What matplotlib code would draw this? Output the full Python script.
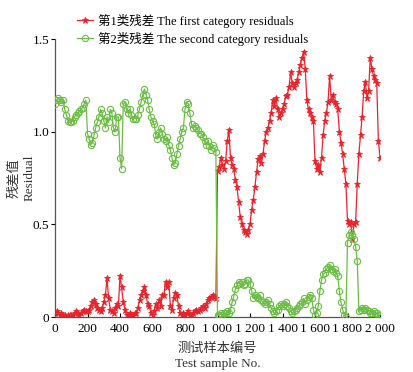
import numpy as np
import matplotlib.pyplot as plt

plt.rcParams['font.family'] = ['Liberation Serif', 'Noto Sans CJK SC', 'DejaVu Sans']

# sample number (every 10th test sample)
samples = np.arange(0, 2001, 10)

# residual of category 1 (red)
resid_1 = [
    0.02, 0.03, 0.02, 0.01, 0.02, 0.01, 0.01, 0.00, 0.01, 0.01,
    0.01, 0.01, 0.02, 0.03, 0.02, 0.01, 0.02, 0.03, 0.04, 0.03,
    0.03, 0.04, 0.06, 0.08, 0.09, 0.07, 0.05, 0.04, 0.03, 0.05,
    0.08, 0.12, 0.21, 0.10, 0.04, 0.03, 0.02, 0.05, 0.07, 0.06,
    0.22, 0.16, 0.08, 0.04, 0.01, 0.01, 0.02, 0.01, 0.01, 0.02,
    0.02, 0.05, 0.09, 0.12, 0.14, 0.16, 0.12, 0.07, 0.06, 0.02,
    0.01, 0.03, 0.07, 0.05, 0.09, 0.06, 0.12, 0.12, 0.19, 0.16,
    0.19, 0.06, 0.04, 0.10, 0.13, 0.12, 0.06, 0.02, 0.01, 0.02,
    0.01, 0.02, 0.03, 0.01, 0.01, 0.02, 0.03, 0.04, 0.03, 0.04,
    0.05, 0.06, 0.05, 0.07, 0.09, 0.10, 0.11, 0.12, 0.11, 0.10,
    0.79, 0.81, 0.86, 0.82, 0.80, 0.84, 0.95, 1.01, 0.86, 0.82,
    0.80, 0.74, 0.70, 0.62, 0.54, 0.50, 0.47, 0.46, 0.45, 0.47,
    0.50, 0.58, 0.63, 0.70, 0.78, 0.85, 0.87, 0.83, 0.88, 0.95,
    1.00, 1.02, 1.06, 1.10, 1.17, 1.14, 1.18, 1.12, 1.08, 1.10,
    1.12, 1.15, 1.19, 1.20, 1.24, 1.32, 1.26, 1.24, 1.26, 1.28,
    1.32, 1.36, 1.40, 1.43, 1.34, 1.17, 1.12, 1.10, 1.08, 1.06,
    0.84, 0.80, 0.82, 0.78, 0.86, 0.98, 1.06, 1.10, 1.16, 1.30,
    1.17, 1.20, 1.16, 1.15, 1.12, 1.00, 0.94, 0.88, 0.80, 0.72,
    0.52, 0.50, 0.51, 0.42, 0.50, 0.51, 0.72, 0.88, 0.98, 1.08,
    1.22, 1.27, 1.18, 1.22, 1.40, 1.34, 1.30, 1.28, 1.26, 0.95,
    0.86,
]

# residual of category 2 (green)
resid_2 = [
    1.15, 1.17, 1.18, 1.17, 1.16, 1.17, 1.12, 1.09, 1.06, 1.05,
    1.05, 1.06, 1.08, 1.09, 1.10, 1.11, 1.12, 1.13, 1.15, 1.17,
    0.99, 0.96, 0.93, 0.94, 0.98, 1.02, 1.05, 1.08, 1.12, 1.10,
    1.06, 1.02, 1.08, 1.05, 1.12, 1.10, 1.02, 1.00, 1.08, 1.08,
    0.86, 0.80, 1.15, 1.16, 1.12, 1.10, 1.12, 1.09, 1.07, 1.07,
    1.07, 1.09, 1.12, 1.16, 1.20, 1.23, 1.20, 1.17, 1.12, 1.08,
    1.06, 1.04, 0.98, 0.96, 1.00, 1.02, 0.99, 0.96, 0.95, 0.97,
    0.93, 0.90, 0.86, 0.82, 0.83, 0.88, 0.92, 0.96, 1.00, 1.02,
    1.12, 1.16, 1.15, 1.10, 1.04, 1.02, 1.03, 1.02, 1.01, 0.99,
    0.99, 0.97, 0.95, 0.93, 0.95, 0.92, 0.90, 0.93, 0.91, 0.89,
    0.01, 0.01, 0.02, 0.01, 0.02, 0.02, 0.03, 0.02, 0.04, 0.08,
    0.11, 0.15, 0.17, 0.19, 0.18, 0.19, 0.17, 0.18, 0.20, 0.20,
    0.18, 0.14, 0.10, 0.12, 0.11, 0.10, 0.12, 0.09, 0.08, 0.07,
    0.08, 0.09, 0.07, 0.05, 0.03, 0.02, 0.03, 0.04, 0.06, 0.07,
    0.06, 0.07, 0.08, 0.06, 0.05, 0.03, 0.02, 0.03, 0.04, 0.05,
    0.06, 0.07, 0.08, 0.10, 0.07, 0.09, 0.11, 0.12, 0.10, 0.04,
    0.01, 0.02, 0.06, 0.14, 0.20, 0.23, 0.24, 0.26, 0.27, 0.28,
    0.26, 0.25, 0.26, 0.24, 0.22, 0.14, 0.08, 0.04, 0.01, 0.00,
    0.40, 0.44, 0.46, 0.44, 0.42, 0.38, 0.30, 0.03, 0.04, 0.05,
    0.04, 0.05, 0.04, 0.03, 0.02, 0.02, 0.03, 0.02, 0.02, 0.01,
    0.01,
]

label_1 = '第1类残差 The first category residuals'
label_2 = '第2类残差 The second category residuals'

red = '#e8232b'
green = '#6bbd45'

fig = plt.figure(figsize=(4.14, 3.72), dpi=100)
ax = fig.add_axes([55 / 414, 55 / 372, 325 / 414, 278 / 372])

l1, = ax.plot(samples, resid_1, color=red, lw=0.9, marker='*', ms=5,
              mew=0.6, label=label_1, zorder=2)
l2, = ax.plot(samples, resid_2, color=green, lw=0.9, marker='o', ms=4.5,
              mfc='none', mew=0.8, label=label_2, zorder=3)

# axes
ax.set_xlim(0, 2000)
ax.set_ylim(0, 1.5)
ax.set_xticks(np.arange(0, 2001, 200))
ax.set_yticks([0, 0.5, 1.0, 1.5])
ax.xaxis.set_major_formatter(lambda v, pos: f'{int(v):,}'.replace(',', ' '))
ax.yaxis.set_major_formatter(lambda v, pos: '0' if v == 0 else f'{v:.1f}')
ax.tick_params(axis='x', direction='in', length=3, width=0.8, labelsize=9.5, pad=4)
ax.tick_params(axis='y', direction='out', length=3, width=0.8, labelsize=9.5, pad=1)

for side in ['top', 'right']:
    ax.spines[side].set_visible(False)
for side in ['left', 'bottom']:
    ax.spines[side].set_color('#555555')
    ax.spines[side].set_linewidth(0.9)

ax.set_xlabel('测试样本编号\nTest sample No.', fontsize=9.5, labelpad=6,
              linespacing=1.35, color='#333333')
ax.set_ylabel('残差值\nResidual', fontsize=9.5,
              linespacing=1.3, color='#333333')
ax.yaxis.set_label_coords(-0.06, 0.5)

fig.legend(handles=[l1, l2], loc='upper left', bbox_to_anchor=(0.185, 0.963),
           frameon=False, fontsize=9, handlelength=1.3, handletextpad=0.4,
           labelspacing=0.3, borderpad=0, borderaxespad=0)

fig.set_facecolor('#FFFFFF')
fig.savefig('out.png', dpi=100)
